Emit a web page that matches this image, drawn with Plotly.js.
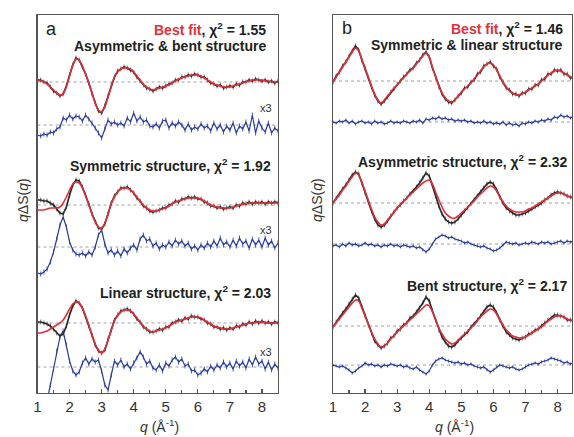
<!DOCTYPE html>
<html><head><meta charset="utf-8">
<script src="https://cdn.plot.ly/plotly-3.0.1.min.js"></script>
<style>html,body{margin:0;padding:0;background:#fff}#chart{width:574px;height:437px}</style>
</head><body><div id="chart"></div>
<script>
// q grid (Å^-1)
const Q = [1.0,1.1,1.2,1.3,1.4,1.5,1.6,1.7,1.8,1.9,2.0,2.1,2.2,2.3,2.4,2.5,2.6,2.7,2.8,2.9,3.0,3.1,3.2,3.3,3.4,3.5,3.6,3.7,3.8,3.9,4.0,4.1,4.2,4.3,4.4,4.5,4.6,4.7,4.8,4.9,5.0,5.1,5.2,5.3,5.4,5.5,5.6,5.7,5.8,5.9,6.0,6.1,6.2,6.3,6.4,6.5,6.6,6.7,6.8,6.9,7.0,7.1,7.2,7.3,7.4,7.5,7.6,7.7,7.8,7.9,8.0,8.1,8.2,8.3,8.4,8.5];

// Panel a — Asymmetric & bent (best fit)
const A1_DATA = [2,2,0,-1,-5,-9,-11,-14,-12,-4, 7,17,24,22,15,8,-1,-12,-21,-29, -31,-24,-14,-3,5,11,13,15,14,12, 10,5,1,-3,-6,-7,-9,-7,-5,-6, -4,-2,-1,2,2,5,5,7,6,8, 7,5,5,2,-1,-2,-4,-3,-6,-5, -4,-5,-2,-3,0,0,2,1,3,2, 1,2,0,1,-1,1];
const A1_FIT  = [2,1,0,-2,-5,-8,-11,-13,-12,-5, 6,17,23,22,16,8,-1,-11,-21,-28, -30,-25,-15,-4,5,10,13,14,14,13, 10,6,2,-2,-5,-7,-8,-7,-6,-5, -4,-3,-1,1,3,4,5,6,7,7, 7,6,4,2,0,-2,-3,-4,-5,-5, -5,-4,-3,-2,-1,0,1,2,2,2, 2,1,1,0,0,0];
const A1_RES  = [-10,-11,-9,-10,-7,-8,-4,-2,7,5, 10,6,9,8,4,10,6,2,-3,-8, -13,-4,5,1,3,0,2,-1,7,3, 12,4,8,3,5,-1,-2,1,-3,4, 5,-3,2,-1,3,0,-5,1,-5,-2, -4,1,-3,-1,-6,2,-4,0,-7,-1, -5,2,-8,-1,-4,3,-6,10,-8,4, -3,-7,2,-8,-3,-6];
// Panel a — Symmetric
const A2_DATA = [5,5,4,4,2,0,-4,-8,-9,-2, 10,20,25,24,18,10,1,-9,-17,-23, -24,-19,-9,2,9,13,17,17,18,15, 12,7,4,-1,-3,-6,-7,-6,-5,-3, -3,0,1,4,3,6,6,8,7,8, 6,6,3,2,-1,-1,-3,-2,-4,-3, -2,-3,0,-1,2,1,3,1,3,2, 3,1,3,2,3,2];
const A2_FIT  = [-5,-5,-5,-4,-3,-3,-3,-2,2,8, 15,21,23,22,17,9,0,-9,-17,-22, -23,-18,-9,1,8,13,16,17,17,15, 12,8,4,0,-3,-5,-6,-6,-5,-4, -3,-1,1,3,4,5,6,7,7,7, 7,6,4,2,0,-1,-2,-3,-3,-3, -3,-2,-1,0,1,1,2,2,2,2, 2,2,2,2,2,2];
const A2_RES  = [-26,-27,-25,-22,-15,-5,8,22,30,20, 5,-3,-7,-8,-6,-9,-5,-8,0,12, 17,3,-6,-3,-8,-4,-9,-2,-6,-1, 2,-3,8,12,6,8,1,4,-2,2, 0,5,1,7,3,6,1,4,-2,1, -3,2,-1,4,0,6,1,9,2,5, 0,7,1,9,3,6,-1,8,2,7, 0,9,2,6,-1,4];
// Panel a — Linear
const A3_DATA = [1,1,0,-1,-3,-6,-10,-13,-11,-3, 8,17,22,20,15,7,-3,-12,-22,-28, -30,-27,-16,-7,3,8,12,13,14,12, 9,4,1,-4,-6,-9,-9,-8,-6,-7, -4,-4,0,1,3,2,5,4,7,6, 6,4,3,0,-1,-4,-4,-6,-5,-7, -5,-6,-3,-4,-1,-2,1,-1,2,0, 2,0,1,-1,1,0];
const A3_FIT  = [-10,-10,-9,-8,-6,-4,-2,0,3,8, 14,19,21,20,15,7,-2,-12,-21,-27, -30,-26,-17,-7,2,8,11,13,13,12, 9,5,1,-3,-6,-8,-9,-8,-7,-6, -5,-3,-1,1,2,3,4,5,6,6, 6,5,3,1,-1,-3,-4,-5,-6,-6, -6,-5,-4,-3,-2,-1,0,0,1,1, 1,0,0,0,0,0];
const A3_RES  = [-60,-55,-48,-34,-18,-2,16,30,36,22, 6,-4,-8,-5,4,9,3,8,5,7, -4,-18,-23,-8,6,2,7,0,3,-2, 4,9,15,10,3,6,-1,-3,2,-4, 4,1,7,10,5,8,1,3,-4,-3, -8,-6,-2,-5,1,-3,2,-1,5,0, 4,-2,6,1,5,-1,8,2,10,3, 6,-2,5,-3,3,-1];

// Panel b — Symmetric & linear (best fit)
const B1_DATA = [-1,5,9,15,19,25,30,35,31,21, 13,3,-6,-14,-20,-23,-20,-16,-11,-8, -3,0,4,7,11,13,18,21,26,29, 24,13,4,-6,-13,-18,-21,-22,-19,-15, -12,-7,-6,-1,1,7,9,15,17,19, 15,12,4,-1,-7,-9,-13,-13,-15,-12, -12,-8,-8,-4,-4,1,2,7,7,11, 10,11,7,7,3,4];
const B1_FIT  = [-1,4,9,14,19,24,29,33,30,22, 13,4,-5,-13,-19,-22,-19,-15,-11,-7, -4,0,3,7,10,13,17,21,25,28, 24,14,4,-5,-12,-17,-20,-21,-19,-15, -11,-8,-5,-2,2,6,10,14,17,18, 16,11,5,-1,-6,-10,-12,-14,-14,-13, -11,-9,-7,-5,-3,0,3,6,8,10, 11,10,8,6,4,3];
const B1_RES  = [0,-1,1,0,2,-1,1,-2,0,1, -1,0,-2,1,-1,0,-2,-1,1,-1, 0,-1,1,0,-1,1,0,2,-1,3, 2,4,3,5,3,4,2,3,1,2, 1,2,0,1,-1,0,-1,1,-1,0, -2,-1,-2,0,-3,-1,-3,-2,-4,-1, -2,0,-1,1,0,2,1,3,2,5, 4,7,5,6,4,6];
// Panel b — Asymmetric
const B2_DATA = [0,5,9,14,18,23,28,31,29,20, 10,1,-8,-16,-22,-24,-22,-18,-13,-9, -5,-2,2,5,9,12,16,20,25,30, 27,18,7,-3,-11,-16,-19,-20,-19,-16, -12,-8,-5,-1,3,7,11,15,19,21, 19,13,6,0,-5,-8,-10,-12,-12,-11, -10,-8,-6,-4,-2,0,3,5,8,10, 11,10,9,7,6,5];
const B2_FIT  = [0,4,8,13,17,22,26,30,28,21, 12,3,-6,-14,-19,-22,-21,-17,-13,-9, -5,-2,2,5,8,11,14,17,20,22, 23,19,11,3,-4,-10,-13,-15,-15,-13, -10,-7,-4,-1,2,6,9,12,15,17, 16,12,6,1,-3,-6,-8,-9,-9,-9, -8,-6,-5,-3,-1,1,3,5,7,9, 10,10,9,7,6,5];
const B2_RES  = [-2,-1,-3,0,-2,1,-1,0,-2,-1, 1,-1,0,-2,-1,-3,-1,-2,0,-2, -1,-3,-1,-2,-3,-2,-4,-3,-6,-8, -5,0,5,7,9,8,6,7,5,4, 3,1,2,0,-1,-2,-3,-2,-4,-5, -7,-6,-4,-1,2,1,0,1,-1,0, 1,0,2,1,0,2,1,2,0,1, 2,3,1,3,2,3];
// Panel b — Bent
const B3_DATA = [-1,4,8,13,17,22,27,31,28,19, 10,1,-7,-15,-19,-22,-20,-17,-12,-10, -5,-3,1,3,8,10,14,18,23,29, 25,15,6,-4,-11,-16,-20,-21,-19,-15, -12,-8,-6,-1,2,6,10,14,19,21, 19,13,6,0,-6,-9,-12,-13,-14,-12, -11,-8,-7,-4,-3,0,3,6,8,11, 11,10,9,6,6,5];
const B3_FIT  = [-1,3,7,11,15,19,23,26,25,18, 10,2,-6,-13,-18,-21,-20,-17,-13,-10, -6,-3,0,3,6,9,12,15,18,21, 20,14,6,-2,-8,-13,-16,-18,-17,-14, -11,-8,-5,-2,1,5,9,12,15,17, 16,12,6,1,-4,-7,-10,-11,-12,-12, -11,-9,-7,-5,-3,-1,2,5,7,9, 10,10,9,7,6,5];
const B3_RES  = [0,-1,-2,-1,-3,-5,-8,-6,-3,-1, 2,0,1,-1,0,-2,0,-1,1,0, -1,0,-2,-1,-3,-4,-2,-5,-7,-9, -6,0,4,6,7,5,4,3,2,3, 1,2,0,1,-1,-2,-3,-2,-5,-7, -5,-2,0,-1,-2,-3,-2,-4,-5,-4, -2,0,1,2,1,3,4,5,7,6, 5,4,2,3,1,2];

// Labels
const A_LABELS = ['Asymmetric & bent structure','Symmetric structure, χ<sup>2</sup> = 1.92','Linear structure, χ<sup>2</sup> = 2.03'];
const B_LABELS = ['Symmetric & linear structure','Asymmetric structure, χ<sup>2</sup> = 2.32','Bent structure, χ<sup>2</sup> = 2.17'];
const A_BEST = ', χ<sup>2</sup> = 1.55';
const B_BEST = ', χ<sup>2</sup> = 1.46';

// vertical stacking offsets (layout, in axis units)
const A_BASE = [311, 188, 70], A_RBASE = [268, 146, 26];
const B_BASE = [312, 190, 67], B_RBASE = [271, 149, 28];

const RED = '#e2303a', BLUE = '#2b3d9c', BLACK = '#2a2a2a';
const W = 574, H = 437;
const px = v => v / W, py = v => 1 - v / H;

const traces = [];
function addSet(xa, ya, data, fit, res, base, rbase, rerr) {
  traces.push({x: Q, y: res.map(v => v + rbase), xaxis: xa, yaxis: ya, mode: 'lines',
    line: {color: BLUE, width: 1.2},
    error_y: {type: 'constant', value: rerr, color: '#4a5bb0', thickness: 1, width: 0},
    hoverinfo: 'skip'});
  traces.push({x: Q, y: data.map(v => v + base), xaxis: xa, yaxis: ya, mode: 'lines',
    line: {color: BLACK, width: 1.7},
    error_y: {type: 'constant', value: 2.4, color: '#6a6a6a', thickness: 1, width: 0},
    hoverinfo: 'skip'});
  traces.push({x: Q, y: fit.map(v => v + base), xaxis: xa, yaxis: ya, mode: 'lines',
    line: {color: RED, width: 1.6, shape: 'spline', smoothing: 0.6}, hoverinfo: 'skip'});
}
addSet('x', 'y', A1_DATA, A1_FIT, A1_RES, A_BASE[0], A_RBASE[0], 2.5);
addSet('x', 'y', A2_DATA, A2_FIT, A2_RES, A_BASE[1], A_RBASE[1], 2.5);
addSet('x', 'y', A3_DATA, A3_FIT, A3_RES, A_BASE[2], A_RBASE[2], 2.5);
addSet('x2', 'y2', B1_DATA, B1_FIT, B1_RES, B_BASE[0], B_RBASE[0], 1.5);
addSet('x2', 'y2', B2_DATA, B2_FIT, B2_RES, B_BASE[1], B_RBASE[1], 1.5);
addSet('x2', 'y2', B3_DATA, B3_FIT, B3_RES, B_BASE[2], B_RBASE[2], 1.5);

const shapes = [];
[...A_BASE, ...A_RBASE].forEach(b => shapes.push({type: 'line', xref: 'x domain', yref: 'y', x0: 0, x1: 1, y0: b, y1: b,
  line: {color: '#a0a0a0', width: 1, dash: 'dot'}, layer: 'below'}));
[...B_BASE, ...B_RBASE].forEach(b => shapes.push({type: 'line', xref: 'x2 domain', yref: 'y2', x0: 0, x1: 1, y0: b, y1: b,
  line: {color: '#a0a0a0', width: 1, dash: 'dot'}, layer: 'below'}));

const FONT = 'Liberation Sans, Arial, sans-serif';
const bold = (t, c) => ({text: '<b>' + t + '</b>', font: {family: FONT, size: 14, color: c || '#222'}});
const ann = [];
function A(xp, yp, t, opts) {
  ann.push(Object.assign({xref: 'paper', yref: 'paper', x: px(xp), y: py(yp), showarrow: false,
    xanchor: 'right', yanchor: 'middle'}, t, opts || {}));
}
// panel letters
A(44, 29, {text: 'a', font: {family: FONT, size: 18, color: '#222'}}, {xanchor: 'left'});
A(340, 28, {text: 'b', font: {family: FONT, size: 18, color: '#222'}}, {xanchor: 'left'});
// panel a
A(268, 29, bold('<span style="color:' + RED + '">Best fit</span>' + A_BEST));
A(268, 46, bold(A_LABELS[0]));
A(273, 165, bold(A_LABELS[1]));
A(273, 292, bold(A_LABELS[2]));
[108, 230, 352].forEach(yy => A(274, yy, {text: 'x3', font: {family: FONT, size: 11, color: '#333'}}));
// panel b
A(565, 28, bold('<span style="color:' + RED + '">Best fit</span>' + B_BEST));
A(565, 45, bold(B_LABELS[0]));
A(569, 161, bold(B_LABELS[1]));
A(569, 285, bold(B_LABELS[2]));
// axis titles
const YT = '<i>q</i>ΔS(<i>q</i>)', XT = '<i>q</i> (Å<sup>-1</sup>)';
A(23, 200, {text: YT, textangle: -90, font: {family: FONT, size: 14, color: '#333'}}, {xanchor: 'center'});
A(317, 200, {text: YT, textangle: -90, font: {family: FONT, size: 14, color: '#333'}}, {xanchor: 'center'});
A(159, 426, {text: XT, font: {family: FONT, size: 14, color: '#333'}}, {xanchor: 'center'});
A(454, 426, {text: XT, font: {family: FONT, size: 14, color: '#333'}}, {xanchor: 'center'});

const xbase = {showline: true, mirror: true, linecolor: '#555', linewidth: 1.3, ticks: 'inside', ticklen: 4,
  tickcolor: '#555', tickwidth: 1.2, tick0: 1, dtick: 1, showgrid: false, zeroline: false,
  minor: {dtick: 0.5, tick0: 1, ticks: 'inside', ticklen: 3, tickcolor: '#555', showgrid: false},
  tickfont: {family: FONT, size: 15, color: '#333'}, fixedrange: true};
const ybase = {domain: [44 / H, 422 / H], range: [0, 378], showline: true, mirror: true, linecolor: '#555',
  linewidth: 1.3, ticks: '', showticklabels: false, showgrid: false, zeroline: false, fixedrange: true};

const layout = {
  width: W, height: H, margin: {l: 0, r: 0, t: 0, b: 0}, paper_bgcolor: '#fff', plot_bgcolor: '#fff',
  showlegend: false,
  xaxis: Object.assign({}, xbase, {domain: [37.5 / W, 278 / W], range: [1, 8.5], anchor: 'y'}),
  yaxis: Object.assign({}, ybase, {anchor: 'x'}),
  xaxis2: Object.assign({}, xbase, {domain: [333 / W, 572 / W], range: [1, 8.45], anchor: 'y2'}),
  yaxis2: Object.assign({}, ybase, {anchor: 'x2'}),
  shapes: shapes, annotations: ann
};
Plotly.newPlot('chart', traces, layout, {staticPlot: true, displayModeBar: false});
</script></body></html>
